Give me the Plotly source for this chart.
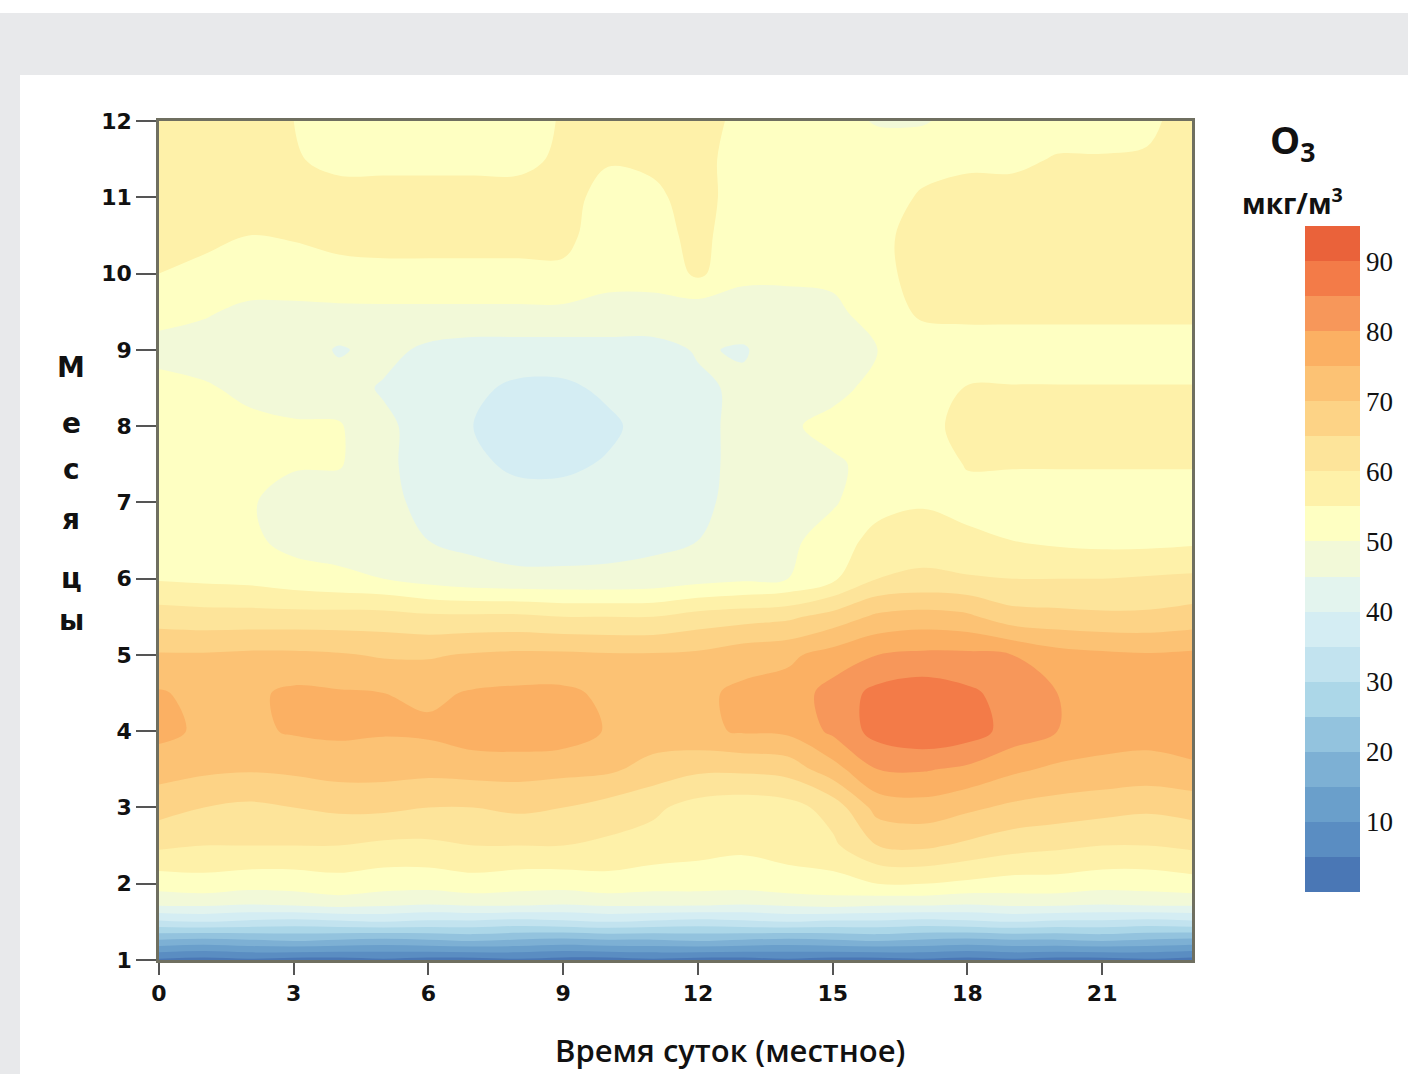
import plotly.graph_objects as go

# ---------------- data ----------------
hours = list(range(24))
months = [1, 1.25, 1.5, 1.75, 2, 2.5, 3, 3.5, 4, 4.5, 5, 5.5, 6,
          6.5, 7, 7.5, 8, 8.5, 9, 9.5, 10, 10.5, 11, 11.5, 12]

m01_00 = [4, 3, 4, 3, 3, 4, 3, 3, 4, 3, 3, 4, 3, 3, 4, 3, 3, 4, 3, 4, 3, 3, 4, 3]
m01_25 = [19, 18, 19, 20, 19, 18, 19, 20, 19, 18, 19, 19, 20, 19, 18, 19, 20, 19, 18, 19, 19, 20, 19, 18]
m01_50 = [34, 35, 34, 33, 34, 35, 34, 34, 33, 34, 35, 34, 33, 34, 35, 34, 34, 33, 34, 35, 34, 34, 33, 34]
m01_75 = [47, 47, 46, 47, 48, 47, 46, 47, 47, 46, 47, 47, 47, 46, 47, 48, 47, 47, 46, 47, 47, 46, 47, 47]
m02_00 = [52, 53, 52, 52, 53, 52, 52, 53, 52, 52, 53, 52, 52, 52, 53, 53, 55, 55, 54, 53, 53, 52, 52, 53]
m02_50 = [61, 60, 60, 60, 60, 59, 59, 60, 60, 60, 59, 58, 57, 56, 57, 59, 65, 66, 64, 62, 61, 60, 60, 61]
m03_00 = [67, 65, 64, 65, 66, 66, 65, 65, 66, 65, 63, 61, 58, 57, 58, 62, 72, 73, 71, 69, 68, 67, 66, 67]
m03_50 = [72, 71, 70.5, 71, 72, 72, 71.5, 72, 72, 71.5, 71, 68, 66, 66, 67, 73, 80, 80.5, 79, 76, 74, 73.5, 73, 74]
m04_00 = [76.5, 74, 74, 75.5, 76, 75.5, 76, 78, 78.5, 78, 74.5, 73, 74, 75.5, 76, 81, 87, 89, 87.5, 83, 80, 77.5, 77, 78]
m04_50 = [75.5, 73.5, 74, 76, 75.5, 75, 74, 75.5, 76, 76, 74, 73, 74, 76, 77, 82, 86.5, 88, 86, 83, 80, 78, 78, 77]
m05_00 = [70.5, 70.5, 71, 71, 70.5, 69.5, 69.5, 70.5, 71, 71, 70.5, 70.5, 71, 73, 74, 77, 80, 81, 81, 80, 77, 76, 75.5, 76]
m05_50 = [62.5, 62, 62, 62, 62, 62, 61, 61, 61, 60, 60, 60, 62, 63, 64, 67, 71, 72, 71, 67, 66.5, 66, 66, 67]
m06_00 = [54.5, 54, 53.5, 52, 51, 50, 48, 46.5, 46, 46, 46, 46.5, 48, 49, 50, 54, 60, 61, 60.5, 60, 60, 60, 60.5, 61]
m06_50 = [52, 52, 51, 48.5, 48, 47, 45, 44, 43, 43, 43.5, 44, 45, 47, 49, 52, 57, 57.5, 56, 55, 54, 53.5, 53.5, 54]
m07_00 = [51.5, 51, 50.5, 48, 47, 46, 44, 43, 42, 42, 42.5, 43, 44, 46.5, 48, 49.5, 53, 54.5, 53.5, 53, 53, 53, 53, 53]
m07_50 = [52, 51.5, 51, 50.5, 50.5, 46, 43, 41, 39, 39, 40.5, 42, 44, 46, 47.5, 49.5, 51, 52.5, 55.3, 55.3, 55.3, 55.3, 55.3, 55.3]
m08_00 = [52, 51.5, 51, 50.5, 50.5, 46, 43, 40, 36.5, 36.5, 39, 42, 44, 46, 49.5, 51, 52, 53, 57, 57, 57, 57, 57, 57]
m08_50 = [51, 50.5, 49, 48, 47, 44.5, 43, 41, 39, 39, 41, 43, 44, 46, 47.5, 49, 51, 53, 55.2, 55.2, 55.2, 55.2, 55.2, 55.2]
m09_00 = [49, 48, 48, 48, 44.5, 46.5, 44, 43, 43, 43, 43, 43, 45.5, 44.5, 48, 48, 50, 52, 53, 53, 53, 53, 53, 53]
m09_50 = [51, 50.5, 49, 49, 49, 49, 49, 49, 49, 49, 49, 49, 47, 48, 48, 49, 52, 56, 56, 56, 56, 56, 56, 56]
m10_00 = [55, 54, 52.5, 52.5, 53.5, 54, 54, 54, 54, 54, 51, 51, 56, 51, 51, 51, 53, 57.5, 57.5, 57.5, 57.5, 57.5, 57.5, 57.5]
m10_50 = [56.5, 56, 55, 55.5, 56.5, 56.5, 56.5, 56.5, 56.5, 56.5, 52, 53, 56.5, 52, 52, 52, 53, 58, 58, 58, 58, 58, 58, 58]
m11_00 = [57, 57, 57, 57, 57, 57, 57, 57, 57, 57, 53, 54, 57, 52.5, 52.5, 52.5, 53, 55.5, 57.5, 57.5, 57.5, 57.5, 57.5, 57.5]
m11_50 = [57, 57, 57, 55.5, 53.5, 53.5, 53.5, 53.5, 53.5, 56, 55.5, 56, 56.5, 53, 53, 53, 53, 53.5, 53.5, 53.5, 55.5, 55.5, 55.5, 55.5]
m12_00 = [57, 57, 57, 55, 52.5, 52.5, 52.5, 52.5, 52.5, 55.5, 56.5, 56.5, 56.5, 54, 52, 52, 49.5, 49.5, 52, 52, 52, 52, 54, 57]

rows = [m01_00, m01_25, m01_50, m01_75, m02_00, m02_50, m03_00, m03_50,
        m04_00, m04_50, m05_00, m05_50, m06_00, m06_50, m07_00, m07_50,
        m08_00, m08_50, m09_00, m09_50, m10_00, m10_50, m11_00, m11_50, m12_00]

x_ticks = [0, 3, 6, 9, 12, 15, 18, 21]
y_ticks = list(range(1, 13))
cb_ticks = [10, 20, 30, 40, 50, 60, 70, 80, 90]
y_title_letters = ["М", "е", "с", "я", "ц", "ы"]
x_title = "Время суток (местное)"

# band colours (0..95 in steps of 5), bottom to top
band_colors = ["#4a77b5", "#5a8dc2", "#6a9fcb", "#7db0d4", "#93c3de", "#acd7e8",
               "#c2e3ef", "#d4edf3", "#e3f4ee", "#f2f9d8", "#feffc2", "#fef1a9",
               "#fde49a", "#fdd386", "#fcc274", "#fbb063", "#f7975a", "#f37b48",
               "#ea623a"]
zmin, zmax, step = 0, 95, 5
colorscale = []
nb = len(band_colors)
for i, c in enumerate(band_colors):
    colorscale.append([i / nb, c])
    colorscale.append([(i + 1) / nb, c])

# ---------------- layout geometry ----------------
W, H = 1408, 1074
L, R, T, B = 159, 1192, 121, 960
pw, ph = R - L, B - T


def px(xp):
    return (xp - L) / pw


def py(yp):
    return (B - yp) / ph


cb_top, cb_bot = 226, 892

fig = go.Figure()
fig.add_trace(go.Contour(
    x=hours, y=months, z=rows,
    colorscale=colorscale, zmin=zmin, zmax=zmax,
    autocontour=False,
    contours=dict(start=zmin, end=zmax, size=step, coloring="fill", showlines=False),
    line=dict(width=0),
    colorbar=dict(
        x=px(1295), xanchor="left", xref="paper",
        y=py((cb_top + cb_bot) / 2), yanchor="middle", yref="paper",
        len=(cb_bot - cb_top) / ph, lenmode="fraction", ypad=0,
        thickness=55, thicknessmode="pixels",
        outlinewidth=0, ticks="",
        tickvals=cb_ticks, ticktext=[str(v) for v in cb_ticks],
        tickfont=dict(family="Liberation Serif", size=27, color="#111111"),
        ticklabelposition="outside",
    ),
    hoverinfo="skip",
))

axis_font = dict(family="DejaVu Sans", size=22, color="#111111", weight="bold")

fig.update_xaxes(
    range=[0, 23], tickvals=x_ticks, ticktext=[str(v) for v in x_ticks],
    ticks="outside", ticklen=12, tickwidth=1.5, tickcolor="#555555",
    tickfont=axis_font, showgrid=False, zeroline=False,
    showline=True, mirror=True, linecolor="#6f6f60", linewidth=2.5,
)
fig.update_yaxes(
    range=[1, 12], tickvals=y_ticks, ticktext=[str(v) for v in y_ticks],
    ticks="outside", ticklen=20, tickwidth=1.5, tickcolor="#555555",
    tickfont=axis_font, showgrid=False, zeroline=False,
    showline=True, mirror=True, linecolor="#6f6f60", linewidth=2.5,
)

annotations = []
letter_y = [367, 423, 469, 519, 578, 620]
for ch, yy in zip(y_title_letters, letter_y):
    annotations.append(dict(
        text=ch, x=px(71), y=py(yy), xref="paper", yref="paper",
        xanchor="center", yanchor="middle", showarrow=False,
        font=dict(family="DejaVu Sans", size=28, color="#111111", weight="bold"),
    ))
annotations.append(dict(
    text=x_title, x=px(730), y=py(1050), xref="paper", yref="paper",
    xanchor="center", yanchor="middle", showarrow=False,
    font=dict(family="Open Sans", size=31, color="#111111", weight=600),
))
annotations.append(dict(
    text="O<sub>3</sub>", x=px(1292), y=py(142), xref="paper", yref="paper",
    xanchor="center", yanchor="middle", showarrow=False,
    font=dict(family="Open Sans", size=38, color="#111111", weight="bold"),
))
annotations.append(dict(
    text="мкг/м<sup>3</sup>", x=px(1292), y=py(201), xref="paper", yref="paper",
    xanchor="center", yanchor="middle", showarrow=False,
    font=dict(family="Open Sans", size=28, color="#111111", weight="bold"),
))

shapes = [
    dict(type="rect", xref="paper", yref="paper", layer="below",
         x0=px(20), x1=px(1420), y0=py(1090), y1=py(75),
         fillcolor="white", line=dict(width=0)),
    dict(type="rect", xref="paper", yref="paper", layer="below",
         x0=px(-10), x1=px(1420), y0=py(13), y1=py(-10),
         fillcolor="white", line=dict(width=0)),
]

fig.update_layout(
    width=W, height=H,
    margin=dict(l=L, r=W - R, t=T, b=H - B, autoexpand=False),
    paper_bgcolor="#e8e9eb", plot_bgcolor="white",
    annotations=annotations, shapes=shapes,
    showlegend=False,
)

fig.write_html("out.html")
